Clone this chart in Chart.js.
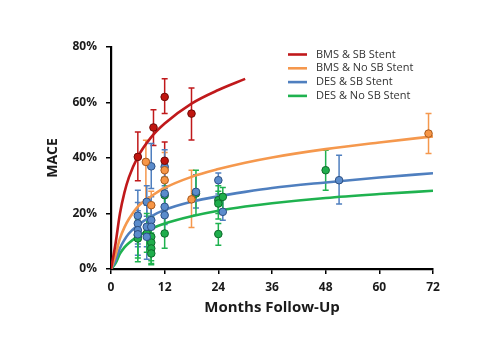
<!DOCTYPE html>
<html>
<head>
<meta charset="utf-8">
<script src="https://cdn.jsdelivr.net/npm/chart.js@4.4.0/dist/chart.umd.min.js"></script>
<style>
  html, body { margin: 0; padding: 0; background: #fff; }
  #wrap { position: relative; width: 502px; height: 338px; }
</style>
</head>
<body>
<div id="wrap"><canvas id="maceChart" width="502" height="338"></canvas></div>
<script>
// fitted curves
const fitMonths = [0, 1, 2, 3, 4, 6, 9, 12, 18, 24, 30, 36, 48, 60, 72];
const bmsSbFit = [0, 9, 20, 27.5, 33, 40.4, 47.5, 52.4, 59.6, 64.5, 68.5, null, null, null, null];
const bmsNoSbFit = [0, 5, 11, 15, 18, 22.5, 26.2, 29.2, 33.2, 36, 38.3, 40.2, 43.2, 45.6, 47.8];
const desSbFit = [0, 3, 7.5, 10.5, 12.8, 15.8, 19, 21.3, 24.2, 26.2, 27.8, 29.2, 31.2, 33, 34.5];
const desNoSbFit = [0, 2, 5.5, 7.8, 9.4, 11.7, 14.5, 16.4, 19, 21, 22.5, 23.7, 25.6, 27, 28.2];

// study points with error bars
const bmsSbMonths = [6, 9.5, 12, 12, 18];
const bmsSbMace = [40.4, 51, 62, 39, 56];
const bmsSbLow = [31.8, 44.5, 56, 33, 46.5];
const bmsSbHigh = [49.4, 57.4, 68.6, 45.8, 65.2];

const bmsNoSbMonths = [7.8, 9, 12, 12, 18, 71];
const bmsNoSbMace = [38.6, 23, 35.6, 32, 25.1, 48.8];
const bmsNoSbLow = [25, 18, 29, 27, 15, 41.6];
const bmsNoSbHigh = [46.4, 28, 42, 38, 35.6, 56];

const desSbMonths = [6, 6, 6, 6, 8, 8, 8, 9, 9, 9, 12, 12, 12, 12, 19, 24, 25, 51];
const desSbMace = [19.2, 16.4, 14, 12.5, 24.2, 15.2, 11.6, 37, 17.6, 15.2, 36.8, 27.2, 22.4, 19.4, 27.8, 32, 20.6, 32];
const desSbLow = [12, 9, 8, 5, 16, 8, 3.5, 29, 10, 8, 30, 21, 16, 13, 22, 27, 17.6, 23.4];
const desSbHigh = [28.4, 24, 21, 19, 30, 23, 19, 45.2, 26, 23, 43, 33, 29, 26, 34, 34.6, 26, 41];

const desNoSbMonths = [6, 6, 8, 9, 9, 9, 9, 12, 12, 19, 24, 24, 25, 24, 48];
const desNoSbMace = [12.2, 11, 12.8, 11.6, 9.5, 7.4, 5.6, 26.6, 12.8, 27.2, 24.8, 23.6, 26, 12.6, 35.6];
const desNoSbLow = [4, 2.6, 6, 5, 3, 2, 1.5, 20, 7.5, 19.4, 20, 18, 21, 8.6, 28.4];
const desNoSbHigh = [20, 18, 20, 19, 16, 13, 11, 33, 19, 35.6, 30, 28, 29.4, 16.4, 42.8];

const legendLabels = ['BMS & SB Stent', 'BMS & No SB Stent', 'DES & SB Stent', 'DES & No SB Stent'];

const lineColors = ['#c0191b', '#f5984d', '#4f7fbf', '#1fb24f'];
const dotFills = ['#c0150f', '#f79646', '#5b8ccc', '#1fae4c'];
const dotEdges = ['#6e0a06', '#a8591c', '#2c4f82', '#0d6a2b'];

function pts(xs, ys) {
    return xs.map((x, i) => ({ x: x, y: ys[i] }));
}

const curveSets = [bmsSbFit, bmsNoSbFit, desSbFit, desNoSbFit].map((vals, k) => ({
    type: 'line',
    label: legendLabels[k],
    data: pts(fitMonths, vals),
    borderColor: lineColors[k],
    borderWidth: 2.6,
    pointRadius: 0,
    fill: false,
    spanGaps: false,
    cubicInterpolationMode: 'monotone',
    order: 2
}));

const groups = [
    [bmsSbMonths, bmsSbMace, bmsSbLow, bmsSbHigh],
    [bmsNoSbMonths, bmsNoSbMace, bmsNoSbLow, bmsNoSbHigh],
    [desSbMonths, desSbMace, desSbLow, desSbHigh],
    [desNoSbMonths, desNoSbMace, desNoSbLow, desNoSbHigh]
];

const dotSets = groups.map((g, k) => ({
    type: 'scatter',
    label: legendLabels[k] + ' studies',
    data: g[0].map((x, i) => ({ x: x, y: g[1][i], lo: g[2][i], hi: g[3][i] })),
    backgroundColor: dotFills[k],
    borderColor: dotEdges[k],
    borderWidth: 1,
    pointRadius: 3.8,
    order: 1
}));

// error bars drawn under the dots
const errorBars = {
    id: 'errorBars',
    beforeDatasetsDraw(chart) {
        const ctx = chart.ctx;
        const xs = chart.scales.x, ys = chart.scales.y;
        ctx.save();
        dotSets.forEach((ds, k) => {
            ctx.strokeStyle = lineColors[k];
            ctx.lineWidth = 1.5;
            ds.data.forEach(p => {
                const px = xs.getPixelForValue(p.x);
                const top = ys.getPixelForValue(p.hi);
                const bot = ys.getPixelForValue(p.lo);
                ctx.beginPath();
                ctx.moveTo(px, top); ctx.lineTo(px, bot);
                ctx.moveTo(px - 3, top); ctx.lineTo(px + 3, top);
                ctx.moveTo(px - 3, bot); ctx.lineTo(px + 3, bot);
                ctx.stroke();
            });
        });
        ctx.restore();
    }
};

// legend at the top right, inside the plot
const cornerLegend = {
    id: 'cornerLegend',
    afterDraw(chart) {
        const ctx = chart.ctx;
        ctx.save();
        ctx.font = '11px "Open Sans"';
        ctx.textBaseline = 'middle';
        legendLabels.forEach((txt, k) => {
            const y = 54.5 + k * 13.8;
            ctx.strokeStyle = lineColors[k];
            ctx.lineWidth = 2.6;
            ctx.beginPath();
            ctx.moveTo(288, y); ctx.lineTo(307, y);
            ctx.stroke();
            ctx.fillStyle = '#333';
            ctx.fillText(txt, 316, y);
        });
        ctx.restore();
    }
};

new Chart(document.getElementById('maceChart'), {
    data: { datasets: curveSets.concat(dotSets) },
    options: {
        responsive: false,
        animation: false,
        layout: { padding: { top: 47, right: 69, left: 0, bottom: 0 } },
        plugins: {
            legend: { display: false },
            tooltip: { enabled: false }
        },
        scales: {
            x: {
                type: 'linear',
                min: 0,
                max: 72,
                afterFit: s => { s.height = 69; },
                ticks: {
                    stepSize: 12,
                    padding: 6,
                    color: '#1a1a1a',
                    font: { family: '"Open Sans"', size: 12, weight: 'bold' }
                },
                grid: { display: true, drawOnChartArea: false, color: '#000', tickLength: 5, lineWidth: 1.5 },
                border: { display: true, color: '#000', width: 2.2 },
                title: {
                    display: true,
                    text: 'Months Follow-Up',
                    color: '#1a1a1a',
                    font: { family: '"Open Sans"', size: 15, weight: 'bold' },
                    padding: { top: 0, bottom: 21 }
                }
            },
            y: {
                min: 0,
                max: 80,
                afterFit: s => { s.width = 111; },
                ticks: {
                    stepSize: 20,
                    padding: 9,
                    color: '#1a1a1a',
                    font: { family: '"Open Sans"', size: 12, weight: 'bold' },
                    callback: v => v + '%'
                },
                grid: { display: true, drawOnChartArea: false, color: '#000', tickLength: 5, lineWidth: 1.5 },
                border: { display: true, color: '#000', width: 2.2 },
                title: {
                    display: true,
                    text: 'MACE',
                    color: '#1a1a1a',
                    font: { family: '"Open Sans"', size: 14, weight: 'bold' },
                    padding: { top: 45, bottom: 0 }
                }
            }
        }
    },
    plugins: [errorBars, cornerLegend]
});
</script>
</body>
</html>
